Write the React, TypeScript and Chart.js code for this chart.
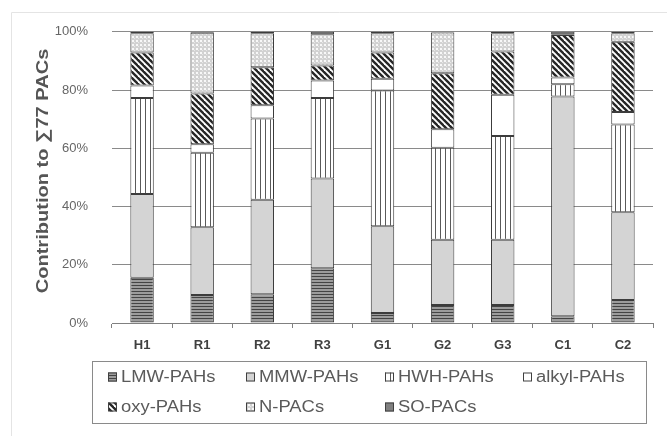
import React, { useEffect, useRef } from 'react';
import { Chart, registerables } from 'chart.js';
Chart.register(...registerables);

const categories = ['H1', 'R1', 'R2', 'R3', 'G1', 'G2', 'G3', 'C1', 'C2'];
const seriesNames = ['LMW-PAHs', 'MMW-PAHs', 'HWH-PAHs', 'alkyl-PAHs', 'oxy-PAHs', 'N-PACs', 'SO-PACs'];
const lmw = [15.5, 9.6, 9.9, 18.8, 3.4, 6.2, 6.2, 2.3, 7.9];
const mmw = [28.8, 23.3, 32.4, 30.8, 29.8, 22.4, 22.4, 75.5, 30.1];
const hwh = [33.0, 25.6, 27.9, 27.7, 46.6, 31.6, 35.6, 4.2, 30.2];
const alkyl = [4.3, 2.9, 4.6, 6.0, 4.1, 6.3, 14.2, 2.3, 4.3];
const oxy = [11.3, 17.4, 13.0, 5.1, 9.0, 19.3, 14.8, 14.6, 24.1];
const npacs = [6.6, 20.9, 11.7, 10.8, 6.6, 14.0, 6.3, 0.3, 2.9];
const sopacs = [0.5, 0.3, 0.5, 0.8, 0.5, 0.2, 0.5, 0.8, 0.5];
const yTicks = [0, 20, 40, 60, 80, 100];
const yTitle = 'Contribution to \u221177 PACs';

function tile(w: number, h: number, draw: (g: CanvasRenderingContext2D) => void): CanvasPattern | string {
  const c = document.createElement('canvas');
  c.width = w;
  c.height = h;
  const g = c.getContext('2d');
  if (!g) return '#999';
  draw(g);
  return g.createPattern(c, 'repeat') || '#999';
}

function makeFills() {
  const lmwFill = tile(4, 3, (g) => {
    g.fillStyle = '#9c9c9c';
    g.fillRect(0, 0, 4, 3);
    g.fillStyle = '#444444';
    g.fillRect(0, 0, 4, 1);
  });
  const mmwFill = '#d4d4d4';
  const hwhFill = tile(5, 2, (g) => {
    g.fillStyle = '#ffffff';
    g.fillRect(0, 0, 5, 2);
    g.fillStyle = '#5a5a5a';
    g.fillRect(0, 0, 1, 2);
  });
  const alkylFill = '#ffffff';
  const oxyFill = tile(6, 6, (g) => {
    g.fillStyle = '#ffffff';
    g.fillRect(0, 0, 6, 6);
    g.strokeStyle = '#262626';
    g.lineWidth = 2.4;
    for (let k = -1; k <= 1; k++) {
      g.beginPath();
      g.moveTo(k * 6 - 1, -1);
      g.lineTo(k * 6 + 7, 7);
      g.stroke();
    }
  });
  const nFill = tile(4, 4, (g) => {
    g.fillStyle = '#d2d2d2';
    g.fillRect(0, 0, 4, 4);
    g.fillStyle = '#f8f8f8';
    g.fillRect(0, 0, 2, 2);
    g.fillStyle = '#e8e8e8';
    g.fillRect(2, 2, 1, 1);
  });
  const soFill = '#808080';
  return [lmwFill, mmwFill, hwhFill, alkylFill, oxyFill, nFill, soFill];
}

const framePlugin = {
  id: 'frame',
  beforeDraw(chart: any) {
    const ctx = chart.ctx;
    ctx.save();
    ctx.strokeStyle = '#e4e4e4';
    ctx.lineWidth = 1;
    ctx.beginPath();
    ctx.moveTo(11.5, 436);
    ctx.lineTo(11.5, 12.5);
    ctx.lineTo(667, 12.5);
    ctx.stroke();
    ctx.restore();
  },
};

const yTitlePlugin = {
  id: 'yTitle',
  afterDraw(chart: any) {
    const ctx = chart.ctx;
    ctx.save();
    ctx.translate(43, 171);
    ctx.rotate(-Math.PI / 2);
    ctx.scale(1.18, 1);
    ctx.font = 'bold 17px "Liberation Sans", Arial, sans-serif';
    ctx.fillStyle = '#555555';
    ctx.textAlign = 'center';
    ctx.textBaseline = 'middle';
    ctx.fillText(yTitle, 0, 0);
    ctx.restore();
  },
};

const legendPlugin = {
  id: 'boxLegend',
  afterDraw(chart: any) {
    const ctx = chart.ctx;
    ctx.save();
    ctx.strokeStyle = '#8a8a8a';
    ctx.lineWidth = 1;
    ctx.strokeRect(92.5, 361.5, 554, 62);
    const cols = [108, 246, 385, 523];
    const rows = [377, 407];
    chart.data.datasets.forEach((ds: any, i: number) => {
      const x = cols[i % 4];
      const y = rows[Math.floor(i / 4)];
      ctx.fillStyle = ds.backgroundColor;
      ctx.fillRect(x, y - 4.5, 9, 9);
      ctx.strokeStyle = '#404040';
      ctx.strokeRect(x + 0.5, y - 4, 8, 8);
      ctx.save();
      ctx.translate(x + 13, y + 1);
      ctx.scale(1.15, 1);
      ctx.font = '16px "Liberation Sans", Arial, sans-serif';
      ctx.fillStyle = '#5a5a5a';
      ctx.textBaseline = 'middle';
      ctx.textAlign = 'left';
      ctx.fillText(ds.label, 0, 0);
      ctx.restore();
    });
    ctx.restore();
  },
};

export default function App() {
  const ref = useRef<HTMLCanvasElement | null>(null);
  useEffect(() => {
    if (!ref.current) return;
    const fills = makeFills();
    const values = [lmw, mmw, hwh, alkyl, oxy, npacs, sopacs];
    const chart = new Chart(ref.current, {
      type: 'bar',
      data: {
        labels: categories,
        datasets: seriesNames.map((name, i) => ({
          label: name,
          data: values[i],
          backgroundColor: fills[i] as any,
          borderColor: '#3c3c3c',
          borderWidth: 1,
          borderSkipped: false,
          barPercentage: 0.39,
          categoryPercentage: 1,
        })),
      },
      options: {
        responsive: false,
        animation: false,
        devicePixelRatio: 1,
        layout: { padding: { left: 0, top: 30, right: 14, bottom: 81 } },
        plugins: { legend: { display: false }, tooltip: { enabled: false } },
        scales: {
          x: {
            stacked: true,
            afterFit: (s: any) => { s.height = 32; },
            grid: { offset: true, drawOnChartArea: false, drawTicks: true, tickLength: 5, color: '#808080' },
            border: { display: true, color: '#808080', width: 1 },
            ticks: {
              padding: 10,
              color: '#404040',
              font: { family: '"Liberation Sans", Arial, sans-serif', size: 13, weight: 'bold' },
            },
          },
          y: {
            stacked: true,
            min: 0,
            max: 100,
            afterFit: (s: any) => { s.width = 112; },
            afterBuildTicks: (s: any) => { s.ticks = yTicks.map((v) => ({ value: v })); },
            grid: { drawTicks: false, color: '#8a8a8a', lineWidth: 1 },
            border: { display: false },
            ticks: {
              padding: 24,
              color: '#666666',
              font: { family: '"Liberation Sans", Arial, sans-serif', size: 13 },
              callback: (v: any) => v + '%',
            },
          },
        },
      },
      plugins: [framePlugin, yTitlePlugin, legendPlugin],
    });
    return () => chart.destroy();
  }, []);
  return (
    <div style={{ position: 'absolute', left: 0, top: 0, width: 667, height: 436, background: '#fff', overflow: 'hidden' }}>
      <canvas ref={ref} width={667} height={436} style={{ display: 'block', width: 667, height: 436 }} />
    </div>
  );
}
